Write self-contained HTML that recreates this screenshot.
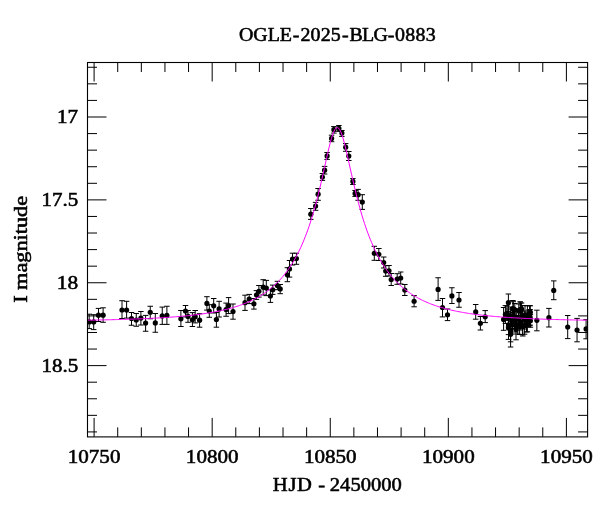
<!DOCTYPE html>
<html lang="en"><head><meta charset="utf-8"><title>OGLE-2025-BLG-0883</title>
<style>html,body{margin:0;padding:0;background:#fff;}svg{display:block;}text{font-family:"Liberation Serif", serif;fill:#000;}</style></head><body>
<svg width="600" height="512" viewBox="0 0 600 512">
<rect width="600" height="512" fill="#fff"/>
<defs><clipPath id="c"><rect x="87.5" y="62.5" width="500.1" height="374.4"/></clipPath></defs>
<g clip-path="url(#c)">
<path d="M89.2 314.2V328.6M86.45 314.2H91.95M86.45 328.6H91.95M93.7 314.7V329.6M90.95 314.7H96.45M90.95 329.6H96.45M98.5 308.4V321.5M95.75 308.4H101.25M95.75 321.5H101.25M103.1 307.8V322.3M100.35 307.8H105.85M100.35 322.3H105.85M122 300.7V318.5M119.25 300.7H124.75M119.25 318.5H124.75M126.6 301.3V318.1M123.85 301.3H129.35M123.85 318.1H129.35M131.5 312.5V325.25M128.75 312.5H134.25M128.75 325.25H134.25M136.25 313.5V326.25M133.5 313.5H139M133.5 326.25H139M140.9 311.5V325M138.15 311.5H143.65M138.15 325H143.65M145.6 315.4V331.25M142.85 315.4H148.35M142.85 331.25H148.35M150.25 306.25V318.75M147.5 306.25H153M147.5 318.75H153M155.3 313.5V332.25M152.55 313.5H158.05M152.55 332.25H158.05M162.25 307.1V324.4M159.5 307.1H165M159.5 324.4H165M166.9 306.25V324.4M164.15 306.25H169.65M164.15 324.4H169.65M180.9 310.5V326.5M178.15 310.5H183.65M178.15 326.5H183.65M185.5 305.5V316.9M182.75 305.5H188.25M182.75 316.9H188.25M188 310.5V322.3M185.25 310.5H190.75M185.25 322.3H190.75M192.4 312.6V326.5M189.65 312.6H195.15M189.65 326.5H195.15M195.2 310.5V322.9M192.45 310.5H197.95M192.45 322.9H197.95M199.6 313.7V327.2M196.85 313.7H202.35M196.85 327.2H202.35M206.9 296.7V310.1M204.15 296.7H209.65M204.15 310.1H209.65M209.3 304.7V317.3M206.55 304.7H212.05M206.55 317.3H212.05M213.7 298.5V313M210.95 298.5H216.45M210.95 313H216.45M216.4 312.5V327.2M213.65 312.5H219.15M213.65 327.2H219.15M219.1 301.3V317M216.35 301.3H221.85M216.35 317H221.85M226.1 303.1V316.25M223.35 303.1H228.85M223.35 316.25H228.85M228.6 297.6V313.6M225.85 297.6H231.35M225.85 313.6H231.35M233 304V319.2M230.25 304H235.75M230.25 319.2H235.75M245 295.2V310.4M242.25 295.2H247.75M242.25 310.4H247.75M249.2 294.4V303.6M246.45 294.4H251.95M246.45 303.6H251.95M253.9 298.5V309.1M251.15 298.5H256.65M251.15 309.1H256.65M256.4 290.6V299.4M253.65 290.6H259.15M253.65 299.4H259.15M258.9 285.5V297.1M256.15 285.5H261.65M256.15 297.1H261.65M263.2 279.7V294.9M260.45 279.7H265.95M260.45 294.9H265.95M266.3 280.4V295.6M263.55 280.4H269.05M263.55 295.6H269.05M270.4 289.8V302.4M267.65 289.8H273.15M267.65 302.4H273.15M272.7 285.1V294.4M269.95 285.1H275.45M269.95 294.4H275.45M277.4 281.3V289.7M274.65 281.3H280.15M274.65 289.7H280.15M280.2 284.5V293.7M277.45 284.5H282.95M277.45 293.7H282.95M287.4 267.7V281.7M284.65 267.7H290.15M284.65 281.7H290.15M289.5 260.5V277.1M286.75 260.5H292.25M286.75 277.1H292.25M292.5 253.2V265M289.75 253.2H295.25M289.75 265H295.25M296.4 253.2V264.3M293.65 253.2H299.15M293.65 264.3H299.15M310.8 208.5V219.4M308.05 208.5H313.55M308.05 219.4H313.55M315.6 202.4V210.3M312.85 202.4H318.35M312.85 210.3H318.35M318.1 188.5V200.3M315.35 188.5H320.85M315.35 200.3H320.85M322.4 173.5V180.4M319.65 173.5H325.15M319.65 180.4H325.15M324.6 166.4V174M321.85 166.4H327.35M321.85 174H327.35M327.1 152.5V159.4M324.35 152.5H329.85M324.35 159.4H329.85M331.6 135.2V141.7M328.85 135.2H334.35M328.85 141.7H334.35M333.9 126.6V133.1M331.15 126.6H336.65M331.15 133.1H336.65M338.9 125.5V131.4M336.15 125.5H341.65M336.15 131.4H341.65M341.9 130.5V136.4M339.15 130.5H344.65M339.15 136.4H344.65M345.7 143.6V151.3M342.95 143.6H348.45M342.95 151.3H348.45M348.8 151.5V160.5M346.05 151.5H351.55M346.05 160.5H351.55M352.9 178.6V184.5M350.15 178.6H355.65M350.15 184.5H355.65M355.1 190.5V196.4M352.35 190.5H357.85M352.35 196.4H357.85M358.1 189.4V200.3M355.35 189.4H360.85M355.35 200.3H360.85M362.3 194.7V209.4M359.55 194.7H365.05M359.55 209.4H365.05M374.3 246.3V260.3M371.55 246.3H377.05M371.55 260.3H377.05M378.8 248.5V260.5M376.05 248.5H381.55M376.05 260.5H381.55M383.7 257V268M380.95 257H386.45M380.95 268H386.45M385.7 265.7V276.3M382.95 265.7H388.45M382.95 276.3H388.45M389 265.5V276M386.25 265.5H391.75M386.25 276H391.75M391.2 273.5V285.5M388.45 273.5H393.95M388.45 285.5H393.95M397.2 273.7V284.3M394.45 273.7H399.95M394.45 284.3H399.95M400.7 272V284M397.95 272H403.45M397.95 284H403.45M404.8 284.5V295.5M402.05 284.5H407.55M402.05 295.5H407.55M414.1 295.6V306.8M411.35 295.6H416.85M411.35 306.8H416.85M438.1 277.75V300.4M435.35 277.75H440.85M435.35 300.4H440.85M442.5 298.5V316.9M439.75 298.5H445.25M439.75 316.9H445.25M447.5 309V320.6M444.75 309H450.25M444.75 320.6H450.25M451.9 287.75V303.5M449.15 287.75H454.65M449.15 303.5H454.65M459 292.5V307.25M456.25 292.5H461.75M456.25 307.25H461.75M475.7 304.5V319.2M472.95 304.5H478.45M472.95 319.2H478.45M480.4 316.5V330M477.65 316.5H483.15M477.65 330H483.15M485.2 310.6V322.6M482.45 310.6H487.95M482.45 322.6H487.95M503.6 307.5V330.3M500.85 307.5H506.35M500.85 330.3H506.35M505.4 305.6V323.4M502.65 305.6H508.15M502.65 323.4H508.15M507 306V320.4M504.25 306H509.75M504.25 320.4H509.75M508.4 294V311.4M505.65 294H511.15M505.65 311.4H511.15M508.5 309V327M505.75 309H511.25M505.75 327H511.25M508.5 317V339.4M505.75 317H511.25M505.75 339.4H511.25M508.5 315V334.6M505.75 315H511.25M505.75 334.6H511.25M510.6 321.6V347M507.85 321.6H513.35M507.85 347H513.35M510.6 318.2V341.8M507.85 318.2H513.35M507.85 341.8H513.35M510.3 307V324M507.55 307H513.05M507.55 324H513.05M512.9 300.5V316.5M510.15 300.5H515.65M510.15 316.5H515.65M513.3 301.7V317.1M510.55 301.7H516.05M510.55 317.1H516.05M512.5 316V334M509.75 316H515.25M509.75 334H515.25M513.5 308V324M510.75 308H516.25M510.75 324H516.25M514.5 313V329M511.75 313H517.25M511.75 329H517.25M516 319.2V339.8M513.25 319.2H518.75M513.25 339.8H518.75M514.8 303.5V316.1M512.05 303.5H517.55M512.05 316.1H517.55M516.2 309V325M513.45 309H518.95M513.45 325H518.95M518.4 311V327M515.65 311H521.15M515.65 327H521.15M517.8 318V334M515.05 318H520.55M515.05 334H520.55M520.2 301.7V317.3M517.45 301.7H522.95M517.45 317.3H522.95M520.5 302.9V318.1M517.75 302.9H523.25M517.75 318.1H523.25M520.2 313V330M517.45 313H522.95M517.45 330H522.95M518.8 304V317M516.05 304H521.55M516.05 317H521.55M521.6 303V315.4M518.85 303H524.35M518.85 315.4H524.35M522.4 316.2V334.8M519.65 316.2H525.15M519.65 334.8H525.15M522.8 317V336M520.05 317H525.55M520.05 336H525.55M522.6 305.6V326.4M519.85 305.6H525.35M519.85 326.4H525.35M524.2 311V329M521.45 311H526.95M521.45 329H526.95M525 305.6V324.4M522.25 305.6H527.75M522.25 324.4H527.75M526.5 314V332M523.75 314H529.25M523.75 332H529.25M527.4 305.8V326.6M524.65 305.8H530.15M524.65 326.6H530.15M527.4 312.2V331.8M524.65 312.2H530.15M524.65 331.8H530.15M528.8 310V327M526.05 310H531.55M526.05 327H531.55M529.6 305.6V325.4M526.85 305.6H532.35M526.85 325.4H532.35M530.4 314.4V327.2M527.65 314.4H533.15M527.65 327.2H533.15M530.3 305.8V318.6M527.55 305.8H533.05M527.55 318.6H533.05M530.1 309.5V325.1M527.35 309.5H532.85M527.35 325.1H532.85M515.5 316V332M512.75 316H518.25M512.75 332H518.25M519.6 318.5V334.5M516.85 318.5H522.35M516.85 334.5H522.35M524.6 317V334.2M521.85 317H527.35M521.85 334.2H527.35M512.3 312.5V328.5M509.55 312.5H515.05M509.55 328.5H515.05M536.85 310.2V330.8M534.1 310.2H539.6M534.1 330.8H539.6M548.9 308.4V327M546.15 308.4H551.65M546.15 327H551.65M553.75 280.9V299.7M551 280.9H556.5M551 299.7H556.5M567.7 315.5V338.6M564.95 315.5H570.45M564.95 338.6H570.45M577.05 318.4V341.8M574.3 318.4H579.8M574.3 341.8H579.8M586.1 319.7V338.8M583.35 319.7H588.85M583.35 338.8H588.85" fill="none" stroke="#000" stroke-width="1"/>
<g fill="#000"><circle cx="89.2" cy="321.9" r="2.6"/><circle cx="93.7" cy="321.9" r="2.6"/><circle cx="98.5" cy="315.2" r="2.6"/><circle cx="103.1" cy="315.2" r="2.6"/><circle cx="122" cy="310" r="2.6"/><circle cx="126.6" cy="310" r="2.6"/><circle cx="131.5" cy="318.5" r="2.6"/><circle cx="136.25" cy="320" r="2.6"/><circle cx="140.9" cy="318.1" r="2.6"/><circle cx="145.6" cy="323.1" r="2.6"/><circle cx="150.25" cy="312.25" r="2.6"/><circle cx="155.3" cy="322.9" r="2.6"/><circle cx="162.25" cy="315.9" r="2.6"/><circle cx="166.9" cy="315.4" r="2.6"/><circle cx="180.9" cy="318.8" r="2.6"/><circle cx="185.5" cy="311" r="2.6"/><circle cx="188" cy="316.4" r="2.6"/><circle cx="192.4" cy="319.8" r="2.6"/><circle cx="195.2" cy="316.7" r="2.6"/><circle cx="199.6" cy="320.2" r="2.6"/><circle cx="206.9" cy="303.4" r="2.6"/><circle cx="209.3" cy="311" r="2.6"/><circle cx="213.7" cy="305.8" r="2.6"/><circle cx="216.4" cy="319.5" r="2.6"/><circle cx="219.1" cy="308.9" r="2.6"/><circle cx="226.1" cy="309.6" r="2.6"/><circle cx="228.6" cy="305.6" r="2.6"/><circle cx="233" cy="311.6" r="2.6"/><circle cx="245" cy="302.7" r="2.6"/><circle cx="249.2" cy="299" r="2.6"/><circle cx="253.9" cy="303.8" r="2.6"/><circle cx="256.4" cy="295" r="2.6"/><circle cx="258.9" cy="291.3" r="2.6"/><circle cx="263.2" cy="287.2" r="2.6"/><circle cx="266.3" cy="288" r="2.6"/><circle cx="270.4" cy="296" r="2.6"/><circle cx="272.7" cy="289.75" r="2.6"/><circle cx="277.4" cy="285.5" r="2.6"/><circle cx="280.2" cy="288.9" r="2.6"/><circle cx="287.4" cy="274.8" r="2.6"/><circle cx="289.5" cy="268.9" r="2.6"/><circle cx="292.5" cy="259.1" r="2.6"/><circle cx="296.4" cy="258.6" r="2.6"/><circle cx="310.8" cy="214.2" r="2.6"/><circle cx="315.6" cy="206.1" r="2.6"/><circle cx="318.1" cy="194.2" r="2.6"/><circle cx="322.4" cy="177.1" r="2.6"/><circle cx="324.6" cy="170.2" r="2.6"/><circle cx="327.1" cy="155.9" r="2.6"/><circle cx="331.6" cy="138.4" r="2.6"/><circle cx="333.9" cy="129.7" r="2.6"/><circle cx="338.9" cy="128.4" r="2.6"/><circle cx="341.9" cy="133.1" r="2.6"/><circle cx="345.7" cy="147.2" r="2.6"/><circle cx="348.8" cy="156" r="2.6"/><circle cx="352.9" cy="181.4" r="2.6"/><circle cx="355.1" cy="193.4" r="2.6"/><circle cx="358.1" cy="194.7" r="2.6"/><circle cx="362.3" cy="202.1" r="2.6"/><circle cx="374.3" cy="253.3" r="2.6"/><circle cx="378.8" cy="254.3" r="2.6"/><circle cx="383.7" cy="262.5" r="2.6"/><circle cx="385.7" cy="271" r="2.6"/><circle cx="389" cy="270.8" r="2.6"/><circle cx="391.2" cy="279.5" r="2.6"/><circle cx="397.2" cy="279" r="2.6"/><circle cx="400.7" cy="278" r="2.6"/><circle cx="404.8" cy="290" r="2.6"/><circle cx="414.1" cy="301.25" r="2.6"/><circle cx="438.1" cy="289.4" r="2.6"/><circle cx="442.5" cy="307.5" r="2.6"/><circle cx="447.5" cy="314.75" r="2.6"/><circle cx="451.9" cy="295.9" r="2.6"/><circle cx="459" cy="300" r="2.6"/><circle cx="475.7" cy="311.9" r="2.6"/><circle cx="480.4" cy="323.3" r="2.6"/><circle cx="485.2" cy="316.8" r="2.6"/><circle cx="503.6" cy="319.4" r="2.6"/><circle cx="505.4" cy="314.5" r="2.6"/><circle cx="507" cy="313.2" r="2.6"/><circle cx="508.4" cy="302.7" r="2.6"/><circle cx="508.5" cy="318" r="2.6"/><circle cx="508.5" cy="328" r="2.6"/><circle cx="508.5" cy="324.8" r="2.6"/><circle cx="510.6" cy="334.3" r="2.6"/><circle cx="510.6" cy="330" r="2.6"/><circle cx="510.3" cy="315.5" r="2.6"/><circle cx="512.9" cy="308.5" r="2.6"/><circle cx="513.3" cy="309.4" r="2.6"/><circle cx="512.5" cy="325" r="2.6"/><circle cx="513.5" cy="316" r="2.6"/><circle cx="514.5" cy="321" r="2.6"/><circle cx="516" cy="329.5" r="2.6"/><circle cx="514.8" cy="309.8" r="2.6"/><circle cx="516.2" cy="317" r="2.6"/><circle cx="518.4" cy="319" r="2.6"/><circle cx="517.8" cy="326" r="2.6"/><circle cx="520.2" cy="309.5" r="2.6"/><circle cx="520.5" cy="310.5" r="2.6"/><circle cx="520.2" cy="321.5" r="2.6"/><circle cx="518.8" cy="310.5" r="2.6"/><circle cx="521.6" cy="309.2" r="2.6"/><circle cx="522.4" cy="325.5" r="2.6"/><circle cx="522.8" cy="326.5" r="2.6"/><circle cx="522.6" cy="316" r="2.6"/><circle cx="524.2" cy="320" r="2.6"/><circle cx="525" cy="315" r="2.6"/><circle cx="526.5" cy="323" r="2.6"/><circle cx="527.4" cy="316.2" r="2.6"/><circle cx="527.4" cy="322" r="2.6"/><circle cx="528.8" cy="318.5" r="2.6"/><circle cx="529.6" cy="315.5" r="2.6"/><circle cx="530.4" cy="320.8" r="2.6"/><circle cx="530.3" cy="312.2" r="2.6"/><circle cx="530.1" cy="317.3" r="2.6"/><circle cx="515.5" cy="324" r="2.6"/><circle cx="519.6" cy="326.5" r="2.6"/><circle cx="524.6" cy="325.6" r="2.6"/><circle cx="512.3" cy="320.5" r="2.6"/><circle cx="536.85" cy="320.3" r="2.6"/><circle cx="548.9" cy="317.7" r="2.6"/><circle cx="553.75" cy="290.4" r="2.6"/><circle cx="567.7" cy="327" r="2.6"/><circle cx="577.05" cy="330.1" r="2.6"/><circle cx="586.1" cy="328.9" r="2.6"/></g>
<polyline fill="none" stroke="#f0f" stroke-width="1" points="87.02,320.18 88.2,320.16 89.38,320.14 90.56,320.12 91.74,320.1 92.92,320.08 94.1,320.06 95.28,320.04 96.46,320.02 97.64,320 98.82,319.98 100,319.95 101.18,319.93 102.37,319.91 103.55,319.88 104.73,319.86 105.91,319.83 107.09,319.81 108.27,319.78 109.45,319.75 110.63,319.72 111.81,319.7 112.99,319.67 114.17,319.64 115.35,319.61 116.53,319.58 117.71,319.55 118.9,319.52 120.08,319.48 121.26,319.45 122.44,319.42 123.62,319.38 124.8,319.35 125.98,319.31 127.16,319.28 128.34,319.24 129.52,319.2 130.7,319.16 131.88,319.12 133.06,319.08 134.25,319.04 135.43,319 136.61,318.95 137.79,318.91 138.97,318.86 140.15,318.82 141.33,318.77 142.51,318.72 143.69,318.67 144.87,318.62 146.05,318.57 147.23,318.52 148.41,318.46 149.6,318.41 150.78,318.35 151.96,318.29 153.14,318.23 154.32,318.17 155.5,318.11 156.68,318.04 157.86,317.98 159.04,317.91 160.22,317.84 161.4,317.77 162.58,317.7 163.76,317.63 164.94,317.56 166.13,317.48 167.31,317.4 168.49,317.32 169.67,317.24 170.85,317.15 172.03,317.07 173.21,316.98 174.39,316.89 175.57,316.79 176.75,316.7 177.93,316.6 179.11,316.5 180.29,316.4 181.48,316.29 182.66,316.18 183.84,316.07 185.02,315.96 186.2,315.84 187.38,315.72 188.56,315.6 189.74,315.48 190.92,315.35 192.1,315.22 193.28,315.08 194.46,314.94 195.64,314.8 196.83,314.65 198.01,314.5 199.19,314.35 200.37,314.19 201.55,314.03 202.73,313.86 203.91,313.69 205.09,313.51 206.27,313.33 207.45,313.14 208.63,312.95 209.81,312.76 210.99,312.56 212.18,312.35 213.36,312.13 214.54,311.92 215.72,311.69 216.9,311.46 218.08,311.22 219.26,310.98 220.44,310.72 221.62,310.46 222.8,310.2 223.98,309.92 225.16,309.64 226.34,309.35 227.52,309.05 228.71,308.74 229.89,308.43 231.07,308.1 232.25,307.77 233.43,307.42 234.61,307.06 235.79,306.7 236.97,306.32 238.15,305.93 239.33,305.53 240.51,305.11 241.69,304.69 242.87,304.25 244.06,303.79 245.24,303.33 246.42,302.84 247.6,302.34 248.78,301.83 249.96,301.3 251.14,300.75 252.32,300.19 253.5,299.6 254.68,299 255.86,298.38 257.04,297.74 258.22,297.07 259.4,296.39 260.59,295.68 261.77,294.94 262.95,294.19 264.13,293.4 265.31,292.59 266.49,291.75 267.67,290.88 268.85,289.98 270.03,289.05 271.21,288.09 272.39,287.09 273.57,286.06 274.75,284.98 275.94,283.87 277.12,282.72 278.3,281.53 279.48,280.29 280.66,279 281.84,277.67 283.02,276.29 284.2,274.85 285.38,273.35 286.56,271.8 287.74,270.19 288.92,268.51 290.1,266.77 291.29,264.95 292.47,263.06 293.65,261.1 294.83,259.05 296.01,256.92 297.19,254.7 298.37,252.39 299.55,249.97 300.73,247.46 301.91,244.83 303.09,242.1 304.27,239.24 305.45,236.26 306.63,233.15 307.82,229.9 309,226.51 310.18,222.97 311.36,219.28 312.54,215.43 313.72,211.42 314.9,207.25 316.08,202.9 317.26,198.39 318.44,193.71 319.62,188.87 320.8,183.88 321.98,178.77 323.17,173.54 324.35,168.25 325.53,162.92 326.71,157.63 327.89,152.44 329.07,147.44 330.25,142.75 331.43,138.47 332.61,134.74 333.79,131.68 334.97,129.41 336.15,128.04 337.33,127.61 338.52,128.14 339.7,129.63 340.88,131.99 342.06,135.13 343.24,138.93 344.42,143.26 345.6,148 346.78,153.02 347.96,158.23 349.14,163.53 350.32,168.85 351.5,174.14 352.68,179.35 353.87,184.46 355.05,189.43 356.23,194.25 357.41,198.91 358.59,203.4 359.77,207.73 360.95,211.89 362.13,215.88 363.31,219.71 364.49,223.38 365.67,226.9 366.85,230.28 368.03,233.51 369.21,236.6 370.4,239.57 371.58,242.41 372.76,245.14 373.94,247.75 375.12,250.25 376.3,252.65 377.48,254.96 378.66,257.17 379.84,259.29 381.02,261.33 382.2,263.28 383.38,265.16 384.56,266.97 385.75,268.7 386.93,270.37 388.11,271.98 389.29,273.53 390.47,275.01 391.65,276.45 392.83,277.82 394.01,279.15 395.19,280.43 396.37,281.67 397.55,282.86 398.73,284 399.91,285.11 401.1,286.18 402.28,287.21 403.46,288.2 404.64,289.16 405.82,290.09 407,290.98 408.18,291.85 409.36,292.68 410.54,293.49 411.72,294.27 412.9,295.03 414.08,295.76 415.26,296.47 416.44,297.15 417.63,297.81 418.81,298.45 419.99,299.07 421.17,299.67 422.35,300.25 423.53,300.82 424.71,301.36 425.89,301.89 427.07,302.4 428.25,302.9 429.43,303.38 430.61,303.85 431.79,304.3 432.98,304.74 434.16,305.16 435.34,305.57 436.52,305.97 437.7,306.36 438.88,306.74 440.06,307.11 441.24,307.46 442.42,307.8 443.6,308.14 444.78,308.46 445.96,308.78 447.14,309.09 448.32,309.38 449.51,309.67 450.69,309.96 451.87,310.23 453.05,310.49 454.23,310.75 455.41,311 456.59,311.25 457.77,311.49 458.95,311.72 460.13,311.94 461.31,312.16 462.49,312.37 463.67,312.58 464.86,312.78 466.04,312.98 467.22,313.17 468.4,313.35 469.58,313.53 470.76,313.71 471.94,313.88 473.12,314.04 474.3,314.21 475.48,314.37 476.66,314.52 477.84,314.67 479.02,314.82 480.21,314.96 481.39,315.1 482.57,315.23 483.75,315.36 484.93,315.49 486.11,315.62 487.29,315.74 488.47,315.86 489.65,315.97 490.83,316.09 492.01,316.2 493.19,316.3 494.37,316.41 495.55,316.51 496.74,316.61 497.92,316.71 499.1,316.8 500.28,316.9 501.46,316.99 502.64,317.08 503.82,317.16 505,317.25 506.18,317.33 507.36,317.41 508.54,317.49 509.72,317.56 510.9,317.64 512.09,317.71 513.27,317.78 514.45,317.85 515.63,317.92 516.81,317.99 517.99,318.05 519.17,318.12 520.35,318.18 521.53,318.24 522.71,318.3 523.89,318.36 525.07,318.41 526.25,318.47 527.44,318.52 528.62,318.57 529.8,318.63 530.98,318.68 532.16,318.73 533.34,318.77 534.52,318.82 535.7,318.87 536.88,318.91 538.06,318.96 539.24,319 540.42,319.04 541.6,319.09 542.78,319.13 543.97,319.17 545.15,319.2 546.33,319.24 547.51,319.28 548.69,319.32 549.87,319.35 551.05,319.39 552.23,319.42 553.41,319.46 554.59,319.49 555.77,319.52 556.95,319.55 558.13,319.58 559.32,319.61 560.5,319.64 561.68,319.67 562.86,319.7 564.04,319.73 565.22,319.76 566.4,319.78 567.58,319.81 568.76,319.83 569.94,319.86 571.12,319.88 572.3,319.91 573.48,319.93 574.67,319.96 575.85,319.98 577.03,320 578.21,320.02 579.39,320.04 580.57,320.06 581.75,320.09 582.93,320.11 584.11,320.13 585.29,320.15 586.47,320.16 587.65,320.18 588.83,320.2"/>
</g>
<path d="M94.1 62.5v19M94.1 436.9v-19M117.71 62.5v9.5M117.71 436.9v-9.5M141.33 62.5v9.5M141.33 436.9v-9.5M164.94 62.5v9.5M164.94 436.9v-9.5M188.56 62.5v9.5M188.56 436.9v-9.5M212.18 62.5v19M212.18 436.9v-19M235.79 62.5v9.5M235.79 436.9v-9.5M259.4 62.5v9.5M259.4 436.9v-9.5M283.02 62.5v9.5M283.02 436.9v-9.5M306.63 62.5v9.5M306.63 436.9v-9.5M330.25 62.5v19M330.25 436.9v-19M353.87 62.5v9.5M353.87 436.9v-9.5M377.48 62.5v9.5M377.48 436.9v-9.5M401.1 62.5v9.5M401.1 436.9v-9.5M424.71 62.5v9.5M424.71 436.9v-9.5M448.32 62.5v19M448.32 436.9v-19M471.94 62.5v9.5M471.94 436.9v-9.5M495.55 62.5v9.5M495.55 436.9v-9.5M519.17 62.5v9.5M519.17 436.9v-9.5M542.78 62.5v9.5M542.78 436.9v-9.5M566.4 62.5v19M566.4 436.9v-19M87.5 67.27h9.5M587.6 67.27h-9.5M87.5 83.85h9.5M587.6 83.85h-9.5M87.5 100.42h9.5M587.6 100.42h-9.5M87.5 117h19M587.6 117h-19M87.5 133.58h9.5M587.6 133.58h-9.5M87.5 150.15h9.5M587.6 150.15h-9.5M87.5 166.73h9.5M587.6 166.73h-9.5M87.5 183.3h9.5M587.6 183.3h-9.5M87.5 199.88h19M587.6 199.88h-19M87.5 216.45h9.5M587.6 216.45h-9.5M87.5 233.02h9.5M587.6 233.02h-9.5M87.5 249.6h9.5M587.6 249.6h-9.5M87.5 266.17h9.5M587.6 266.17h-9.5M87.5 282.75h19M587.6 282.75h-19M87.5 299.33h9.5M587.6 299.33h-9.5M87.5 315.9h9.5M587.6 315.9h-9.5M87.5 332.48h9.5M587.6 332.48h-9.5M87.5 349.05h9.5M587.6 349.05h-9.5M87.5 365.62h19M587.6 365.62h-19M87.5 382.2h9.5M587.6 382.2h-9.5M87.5 398.77h9.5M587.6 398.77h-9.5M87.5 415.35h9.5M587.6 415.35h-9.5M87.5 431.92h9.5M587.6 431.92h-9.5" fill="none" stroke="#000" stroke-width="1"/>
<rect x="87.5" y="62.5" width="500.1" height="374.4" fill="none" stroke="#000" stroke-width="1.1"/>
<g font-size="18.7" stroke="#000" stroke-width="0.55">
<text transform="translate(0 40.5) scale(1.0650 1)" x="224.38 237.86 251.32 262.71 274.78 282.12 291.61 301.1 310.58 321.1 328.12 339.88 350.65 364.01 370.85 380.46 390.06 399.67" y="0">OGLE-2025-BLG-0883</text>
<text x="67.81" y="462.75" textLength="52.62" lengthAdjust="spacingAndGlyphs">10750</text>
<text x="185.89" y="462.75" textLength="52.62" lengthAdjust="spacingAndGlyphs">10800</text>
<text x="303.96" y="462.75" textLength="52.62" lengthAdjust="spacingAndGlyphs">10850</text>
<text x="422.04" y="462.75" textLength="52.62" lengthAdjust="spacingAndGlyphs">10900</text>
<text x="540.11" y="462.75" textLength="52.62" lengthAdjust="spacingAndGlyphs">10950</text>
<text x="56.91" y="123.4" textLength="21.05" lengthAdjust="spacingAndGlyphs">17</text>
<text x="41.62" y="206.28" textLength="36.64" lengthAdjust="spacingAndGlyphs">17.5</text>
<text x="56.89" y="289.15" textLength="21.37" lengthAdjust="spacingAndGlyphs">18</text>
<text x="41.62" y="372.02" textLength="36.64" lengthAdjust="spacingAndGlyphs">18.5</text>
<text transform="translate(0 491.3) scale(1.1000 1)" x="247.92 262.33 270.11 284.51 289.42 295.47 299.86 309.2 318.54 327.88 337.22 346.56 355.9" y="0">HJD - 2450000</text>
<text transform="translate(27.2 302) rotate(-90) scale(1.1900 1)" x="-0.56 6.43 10.17 24.7 33 42.35 51.7 56.89 62.1 71.45 80.8" y="0">I magnitude</text>
</g>
</svg></body></html>
